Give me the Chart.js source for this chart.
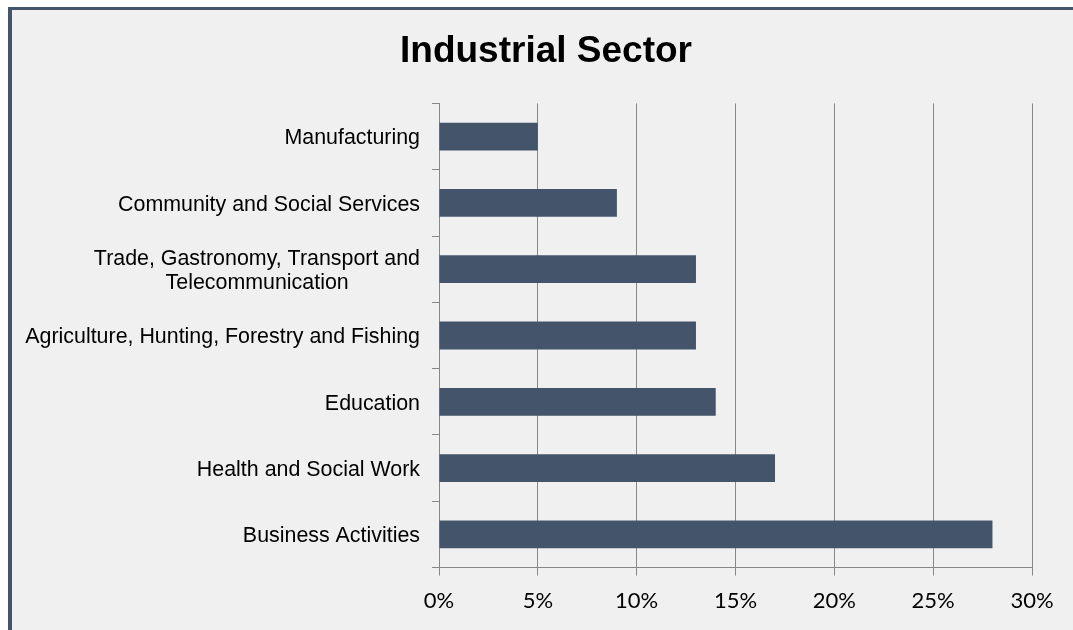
<!DOCTYPE html>
<html>
<head>
<meta charset="utf-8">
<script src="https://cdn.jsdelivr.net/npm/chart.js@4"></script>
<style>
  html, body { margin: 0; padding: 0; background: #ffffff; overflow: hidden; }
  #moldura {
    position: absolute; left: 8px; top: 7px; width: 1100px; height: 660px;
    background: #f0f0f0;
    border-top: 3px solid #44546a; border-left: 4px solid #44546a;
  }
  #wrap { position: absolute; left: 0; top: 0; width: 1073px; height: 630px; }
</style>
</head>
<body>
<div id="moldura"></div>
<div id="wrap"><canvas id="grafico"></canvas></div>
<script>
// Setores de atividade (de cima pra baixo)
// segunda linha do Trade leva espaços no fim pra ficar centrada sob a primeira
const setores = [
  'Manufacturing',
  'Community and Social Services',
  ['Trade, Gastronomy, Transport and', 'Telecommunication' + ' '.repeat(12)],
  'Agriculture, Hunting, Forestry and Fishing',
  'Education',
  'Health and Social Work',
  'Business Activities'
];
const percentuais = [5, 9, 13, 13, 14, 17, 28];
const ticksX = [0, 5, 10, 15, 20, 25, 30];

const corBarra = '#44546a';
const corGrade = '#878787';

// Empurra o bloco do título pra direita (centro fica em ~546px)
const deslocaTitulo = {
  id: 'deslocaTitulo',
  afterLayout(chart) {
    if (chart.titleBlock) chart.titleBlock.left += 60;
  }
};

new Chart(document.getElementById('grafico').getContext('2d'), {
  type: 'bar',
  data: {
    labels: setores,
    datasets: [{
      data: percentuais,
      backgroundColor: corBarra,
      borderWidth: 0,
      barPercentage: 0.42,
      categoryPercentage: 1
    }]
  },
  plugins: [deslocaTitulo],
  options: {
    indexAxis: 'y',
    responsive: true,
    maintainAspectRatio: false,
    animation: false,
    layout: { padding: { left: 0, right: 41, top: 0, bottom: 4 } },
    plugins: {
      legend: { display: false },
      tooltip: { enabled: false },
      title: {
        display: true,
        text: 'Industrial Sector',
        color: '#000',
        font: { family: 'Liberation Sans, Arial, sans-serif', size: 37, weight: 'bold' },
        padding: { top: 30, bottom: 29 }
      }
    },
    scales: {
      x: {
        min: 0,
        max: 30,
        afterBuildTicks: s => { s.ticks = ticksX.map(v => ({ value: v })); },
        ticks: {
          callback: v => v + '%',
          color: '#000',
          font: { family: 'Lato, sans-serif', size: 22 },
          padding: 12,
          maxRotation: 0
        },
        grid: { color: corGrade, lineWidth: 1, tickLength: 8 },
        border: { color: corGrade, width: 1 }
      },
      y: {
        afterFit: s => { s.width = 439; },
        ticks: {
          color: '#000',
          font: { family: 'Liberation Sans, Arial, sans-serif', size: 21.4, lineHeight: 1.13 },
          padding: 12,
          labelOffset: 2
        },
        grid: { offset: true, drawOnChartArea: false, color: corGrade, tickLength: 7 },
        border: { color: corGrade, width: 1 }
      }
    }
  }
});
</script>
</body>
</html>
